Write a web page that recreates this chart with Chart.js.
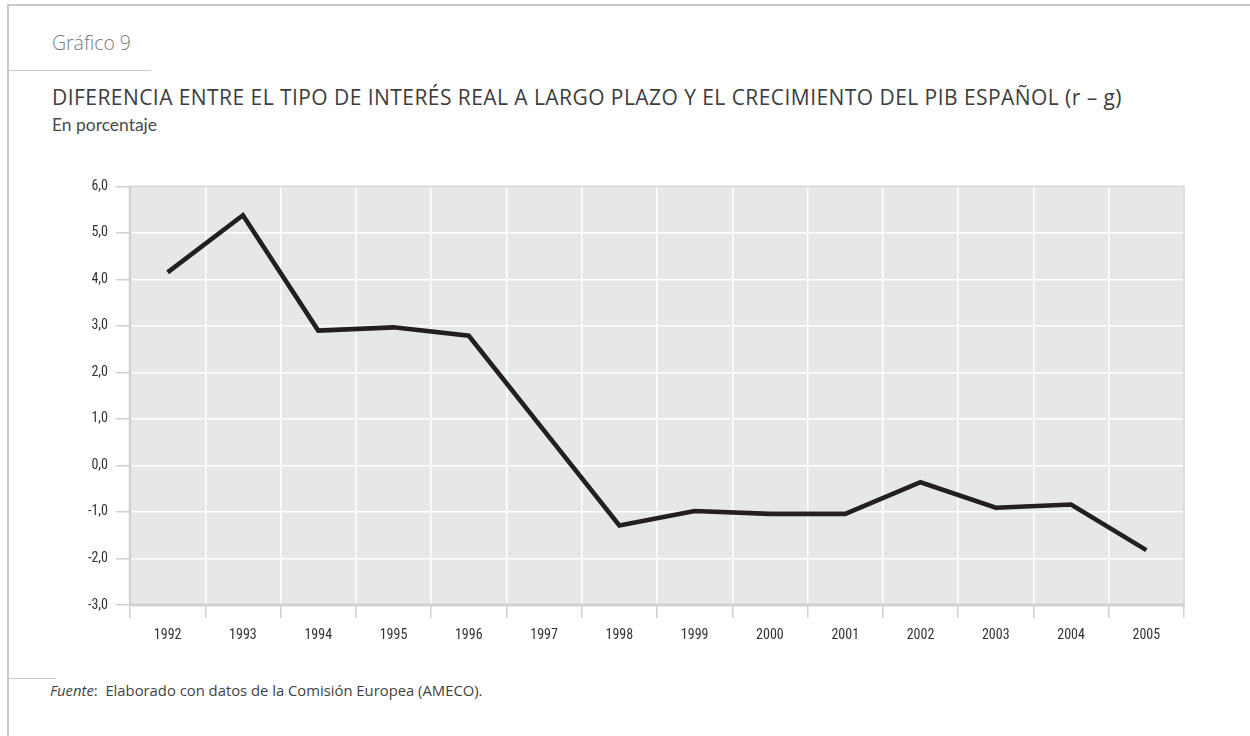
<!DOCTYPE html>
<html>
<head>
<meta charset="utf-8">
<script src="https://cdn.jsdelivr.net/npm/chart.js@4/dist/chart.umd.min.js"></script>
<style>
  html, body { margin: 0; padding: 0; background: #fff; }
  body { width: 1250px; height: 736px; position: relative; overflow: hidden; font-family: "Open Sans", Lato, sans-serif; }
  .rule { position: absolute; background: #c9c9c9; }
  .txt { position: absolute; white-space: nowrap; line-height: 1; }
  #kicker { left: 52px; top: 33px; font-size: 19px; font-weight: 300; color: #7a7a7a; }
  #title { left: 52px; top: 87px; font-size: 21px; font-weight: 400; color: #3d3d3d; }
  #subtitle { left: 52px; top: 116px; font-size: 16.5px; font-weight: 400; color: #4a4a4a; font-family: Lato, "Open Sans", sans-serif; }
  #source { left: 50px; top: 683px; font-size: 14.5px; color: #3f3f3f; }
  #wrap { position: absolute; left: 0; top: 170px; width: 1250px; height: 480px; }
</style>
</head>
<body>
<div class="rule" style="left:7px; top:4px; width:1243px; height:1.5px;"></div>
<div class="rule" style="left:7px; top:4px; width:1.5px; height:732px;"></div>
<div class="rule" style="left:7px; top:69.5px; width:144px; height:1.5px;"></div>
<div class="rule" style="left:7px; top:677.5px; width:49px; height:1.5px;"></div>

<div class="txt" id="kicker">Gráfico 9</div>
<div class="txt" id="title">DIFERENCIA ENTRE EL TIPO DE INTERÉS REAL A LARGO PLAZO Y EL CRECIMIENTO DEL PIB ESPAÑOL (r – g)</div>
<div class="txt" id="subtitle">En porcentaje</div>
<div class="txt" id="source"><i>Fuente</i>:&nbsp; Elaborado con datos de la Comisión Europea (AMECO).</div>

<div id="wrap"><canvas id="c" width="1250" height="480"></canvas></div>

<script>
// ---- data ----
const years = ["1992","1993","1994","1995","1996","1997","1998","1999","2000","2001","2002","2003","2004","2005"];
const rMinusG = [4.15, 5.38, 2.90, 2.97, 2.79, 0.75, -1.29, -0.98, -1.04, -1.04, -0.36, -0.91, -0.84, -1.82];
const yMin = -3;
const yMax = 6;
const yStep = 1;

const PLOT_BG = '#e6e7e8';
const FRAME = '#cfd1d2';
const TEXT = '#333333';
const TICK_FONT = { family: '"Roboto Condensed", Lato, sans-serif', size: 14, weight: '400' };

// fit header texts to the reference widths
function fitSize(id, target) {
  const el = document.getElementById(id);
  const w = el.getBoundingClientRect().width;
  const fs = parseFloat(getComputedStyle(el).fontSize);
  el.style.fontSize = (fs * target / w) + 'px';
}
function fitSpacing(id, target) {
  const el = document.getElementById(id);
  const w = el.getBoundingClientRect().width;
  const n = el.textContent.length;
  el.style.letterSpacing = ((target - w) / n) + 'px';
}
fitSize('kicker', 79);
fitSize('subtitle', 105);
fitSize('source', 433);
fitSpacing('title', 1070);

const plotBg = {
  id: 'plotBg',
  beforeDraw(chart) {
    const { ctx, chartArea: a } = chart;
    ctx.save();
    ctx.fillStyle = PLOT_BG;
    ctx.fillRect(a.left, a.top, a.right - a.left, a.bottom - a.top);
    ctx.restore();
  },
  beforeDatasetsDraw(chart) {
    const { ctx, chartArea: a } = chart;
    ctx.save();
    ctx.strokeStyle = FRAME;
    ctx.lineWidth = 1.5;
    ctx.beginPath();
    ctx.moveTo(a.left, a.top); ctx.lineTo(a.right, a.top); ctx.lineTo(a.right, a.bottom);
    ctx.stroke();
    ctx.lineWidth = 3;
    ctx.beginPath();
    ctx.moveTo(a.left - 1, a.bottom); ctx.lineTo(a.right + 0.75, a.bottom);
    ctx.stroke();
    ctx.lineWidth = 2.5;
    ctx.beginPath();
    ctx.moveTo(a.left, a.top - 0.75); ctx.lineTo(a.left, a.bottom);
    ctx.stroke();
    ctx.restore();
  }
};

new Chart(document.getElementById('c'), {
  type: 'line',
  data: {
    labels: years,
    datasets: [{
      data: rMinusG,
      borderColor: '#231f20',
      borderWidth: 4.6,
      tension: 0,
      pointRadius: 0,
      borderJoinStyle: 'miter',
      borderCapStyle: 'butt',
      fill: false
    }]
  },
  options: {
    responsive: false,
    animation: false,
    devicePixelRatio: 1,
    layout: { padding: { top: 16, right: 66, left: 0, bottom: 0 } },
    plugins: { legend: { display: false }, tooltip: { enabled: false }, title: { display: false } },
    scales: {
      x: {
        type: 'category',
        offset: true,
        grid: {
          offset: true,
          color: '#ffffff',
          lineWidth: 1.5,
          tickColor: FRAME,
          tickLength: 13,
          drawOnChartArea: true
        },
        border: { display: false },
        ticks: {
          color: TEXT,
          font: TICK_FONT,
          padding: 9,
          maxRotation: 0,
          autoSkip: false
        },
        afterFit(scale) { scale.height = 45; }
      },
      y: {
        min: yMin,
        max: yMax,
        grid: {
          color: '#ffffff',
          lineWidth: 1.5,
          tickColor: FRAME,
          tickLength: 14
        },
        border: { display: false },
        ticks: {
          stepSize: yStep,
          color: TEXT,
          font: TICK_FONT,
          padding: 8,
          callback: (v) => v.toFixed(1).replace('.', ',')
        },
        afterFit(scale) { scale.width = 130; }
      }
    }
  },
  plugins: [plotBg]
});
</script>
</body>
</html>
